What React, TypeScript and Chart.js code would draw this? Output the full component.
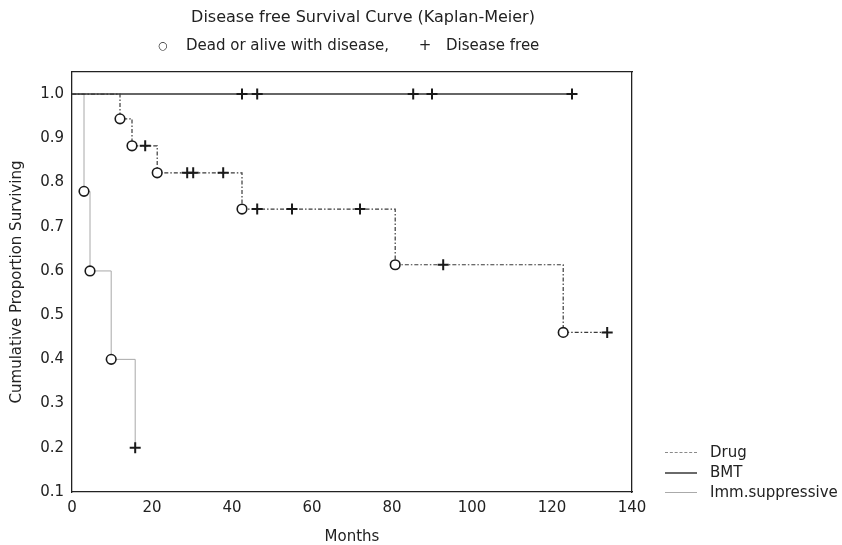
import React, { useEffect, useRef } from "react";
import { Chart, registerables } from "chart.js";

Chart.register(...registerables);

// ---- Data ----
const xTickValues = [0, 20, 40, 60, 80, 100, 120, 140];
const yTickValues = [0.1, 0.2, 0.3, 0.4, 0.5, 0.6, 0.7, 0.8, 0.9, 1.0];

const seriesNames = ["Drug", "BMT", "Imm.suppressive"];

// mark: "start" = origin (no marker), "event" = dead or alive with disease (o), "censored" = disease free (+)
const drugMonths = [0, 12, 15, 18.3, 21.3, 28.8, 30.3, 37.8, 42.5, 46.3, 55, 72, 80.8, 92.8, 122.8, 133.8];
const drugSurvival = [1.0, 0.944, 0.883, 0.883, 0.822, 0.822, 0.822, 0.822, 0.74, 0.74, 0.74, 0.74, 0.614, 0.614, 0.461, 0.461];
const drugMarks = ["start", "event", "event", "censored", "event", "censored", "censored", "censored", "event", "censored", "censored", "censored", "event", "censored", "event", "censored"];

const bmtMonths = [0, 42.5, 46.3, 85.3, 90, 125];
const bmtSurvival = [1.0, 1.0, 1.0, 1.0, 1.0, 1.0];
const bmtMarks = ["start", "censored", "censored", "censored", "censored", "censored"];

const immMonths = [0, 3, 4.5, 9.8, 15.8];
const immSurvival = [1.0, 0.78, 0.6, 0.4, 0.2];
const immMarks = ["start", "event", "event", "event", "censored"];

const FONT = "'DejaVu Sans', 'Liberation Sans', sans-serif";
const INK = "#222";

function markerProps(marks: string[]) {
  return {
    pointStyle: marks.map((m) => (m === "censored" ? "cross" : "circle")),
    pointRadius: marks.map((m) => (m === "start" ? 0 : m === "censored" ? 5.5 : 4.8)),
    pointBorderWidth: marks.map((m) => (m === "censored" ? 2 : 1.6)),
    pointBackgroundColor: "#ffffff",
    pointBorderColor: "#1a1a1a",
    pointHoverRadius: 0,
  };
}

function toPoints(xs: number[], ys: number[]) {
  return xs.map((x, i) => ({ x, y: ys[i] }));
}

export default function App() {
  const canvasRef = useRef<HTMLCanvasElement | null>(null);

  useEffect(() => {
    const canvas = canvasRef.current;
    if (!canvas) return;
    const chart = new Chart(canvas, {
      type: "line",
      data: {
        datasets: [
          {
            label: seriesNames[0],
            data: toPoints(drugMonths, drugSurvival),
            stepped: "before",
            borderColor: "#3a3a3a",
            borderWidth: 1.2,
            borderDash: [4, 2, 1.5, 2],
            fill: false,
            ...markerProps(drugMarks),
          },
          {
            label: seriesNames[1],
            data: toPoints(bmtMonths, bmtSurvival),
            stepped: "before",
            borderColor: "#333333",
            borderWidth: 1.5,
            fill: false,
            ...markerProps(bmtMarks),
          },
          {
            label: seriesNames[2],
            data: toPoints(immMonths, immSurvival),
            stepped: "before",
            borderColor: "#a8a8a8",
            borderWidth: 1,
            fill: false,
            ...markerProps(immMarks),
          },
        ],
      } as any,
      options: {
        animation: false,
        responsive: false,
        maintainAspectRatio: false,
        events: [],
        layout: { padding: { top: 72, right: 210, bottom: 0, left: 0 } },
        plugins: {
          legend: { display: false },
          title: { display: false },
          tooltip: { enabled: false },
        },
        scales: {
          x: {
            type: "linear",
            position: "bottom",
            min: 0,
            max: 140,
            afterBuildTicks: (s: any) => {
              s.ticks = xTickValues.map((v) => ({ value: v }));
            },
            afterFit: (s: any) => {
              s.height = 53;
            },
            ticks: {
              color: INK,
              font: { family: FONT, size: 15 },
              padding: 7,
              maxRotation: 0,
            },
            grid: { display: false, drawTicks: false },
            border: { display: true, color: INK, width: 1.3 },
            title: {
              display: true,
              text: "Months",
              color: INK,
              font: { family: FONT, size: 15, lineHeight: 1.1 },
              padding: { top: 0, bottom: 0 },
            },
          },
          y: {
            type: "linear",
            position: "left",
            min: 0.1,
            max: 1.05,
            afterBuildTicks: (s: any) => {
              s.ticks = yTickValues.map((v) => ({ value: v }));
            },
            afterFit: (s: any) => {
              s.width = 72;
            },
            ticks: {
              color: INK,
              font: { family: FONT, size: 15 },
              padding: 8,
              callback: (v: any) => Number(v).toFixed(1),
            },
            grid: { display: false, drawTicks: false },
            border: { display: true, color: INK, width: 1.3 },
            title: {
              display: true,
              text: "Cumulative Proportion Surviving",
              color: INK,
              font: { family: FONT, size: 15, lineHeight: 1.2 },
              padding: { top: 8, bottom: 0 },
            },
          },
          x2: {
            type: "linear",
            position: "top",
            min: 0,
            max: 140,
            ticks: { display: false },
            grid: { display: false, drawTicks: false },
            border: { display: true, color: INK, width: 1.3 },
            afterFit: (s: any) => {
              s.height = 0;
            },
          },
          y2: {
            type: "linear",
            position: "right",
            min: 0.1,
            max: 1.05,
            ticks: { display: false },
            grid: { display: false, drawTicks: false },
            border: { display: true, color: INK, width: 1.3 },
            afterFit: (s: any) => {
              s.width = 0;
            },
          },
        },
      } as any,
    });
    return () => chart.destroy();
  }, []);

  const text: React.CSSProperties = {
    position: "absolute",
    fontFamily: FONT,
    color: INK,
    whiteSpace: "nowrap",
    lineHeight: 1,
  };

  const legendRows = [
    { name: seriesNames[0], line: "1px dashed #8a8a8a", y: 452 },
    { name: seriesNames[1], line: "2px solid #6a6a6a", y: 472 },
    { name: seriesNames[2], line: "1px solid #aaaaaa", y: 492 },
  ];

  return (
    <div
      style={{
        position: "fixed",
        left: 0,
        top: 0,
        width: 842,
        height: 545,
        overflow: "hidden",
        background: "#ffffff",
      }}
    >
      <canvas ref={canvasRef} width={842} height={545} style={{ display: "block", width: 842, height: 545 }} />
      <div style={{ ...text, left: 363, top: 17, fontSize: 16, transform: "translate(-50%, -50%)" }}>
        Disease free Survival Curve (Kaplan-Meier)
      </div>
      <div style={{ ...text, left: 163, top: 45, fontSize: 11, fontWeight: "bold", transform: "translate(-50%, -50%)" }}>○</div>
      <div style={{ ...text, left: 186, top: 45, fontSize: 15, transform: "translateY(-50%)" }}>
        Dead or alive with disease,
      </div>
      <div style={{ ...text, left: 425, top: 45, fontSize: 15, transform: "translate(-50%, -50%)" }}>+</div>
      <div style={{ ...text, left: 446, top: 45, fontSize: 15, transform: "translateY(-50%)" }}>Disease free</div>
      {legendRows.map((r) => (
        <React.Fragment key={r.name}>
          <div style={{ position: "absolute", left: 665, top: r.y, width: 32, height: 0, borderTop: r.line }} />
          <div style={{ ...text, left: 710, top: r.y, fontSize: 15, transform: "translateY(-50%)" }}>{r.name}</div>
        </React.Fragment>
      ))}
    </div>
  );
}
